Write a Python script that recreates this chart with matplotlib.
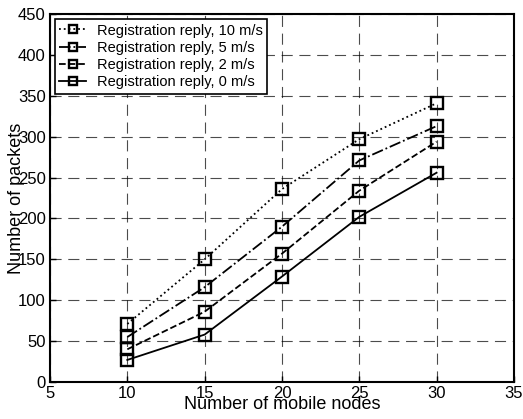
import matplotlib
matplotlib.use("Agg")
import matplotlib.pyplot as plt

plt.rcParams['font.family'] = ['Liberation Sans', 'DejaVu Sans']

nodes = [10, 15, 20, 25, 30]
reply_10 = [71, 150, 236, 297, 341]
reply_5 = [55, 116, 190, 271, 313]
reply_2 = [40, 86, 157, 234, 294]
reply_0 = [27, 58, 129, 202, 256]
labels = ['Registration reply, 10 m/s', 'Registration reply, 5 m/s',
          'Registration reply, 2 m/s', 'Registration reply, 0 m/s']
xticks = [5, 10, 15, 20, 25, 30, 35]
yticks = [0, 50, 100, 150, 200, 250, 300, 350, 400, 450]

fig = plt.figure(figsize=(5.23, 4.19), dpi=100)
ax = fig.add_axes([0.0956, 0.0883, 0.887, 0.878])

styles = [':', '-.', '--', '-']
for ys, ls, lab in zip([reply_10, reply_5, reply_2, reply_0], styles, labels):
    ax.plot(nodes, ys, linestyle=ls, color='black', linewidth=1.3,
            marker='s', markersize=8.5, markerfacecolor='none',
            markeredgecolor='black', markeredgewidth=1.7, label=lab)

ax.set_xlim(5, 35)
ax.set_ylim(0, 450)
ax.set_xticks(xticks)
ax.set_yticks(yticks)
ax.tick_params(direction='in', labelsize=12, length=4, width=1, pad=3)
ax.grid(True, linestyle=(0, (10, 6)), color='black', linewidth=0.8, alpha=0.7)
for sp in ax.spines.values():
    sp.set_linewidth(1.5)

ax.set_xlabel('Number of mobile nodes', fontsize=13, labelpad=-4)
ax.set_ylabel('Number of packets', fontsize=13)
ax.yaxis.set_label_coords(-0.053, 0.5)

leg = ax.legend(loc='upper left', fontsize=10.5, frameon=True, fancybox=False,
                edgecolor='black', framealpha=1, handlelength=1.8,
                borderaxespad=0.35, labelspacing=0.22, borderpad=0.3,
                handletextpad=0.75, markerscale=0.75)
leg.get_frame().set_linewidth(1.2)

fig.savefig('out.png', dpi=100)
